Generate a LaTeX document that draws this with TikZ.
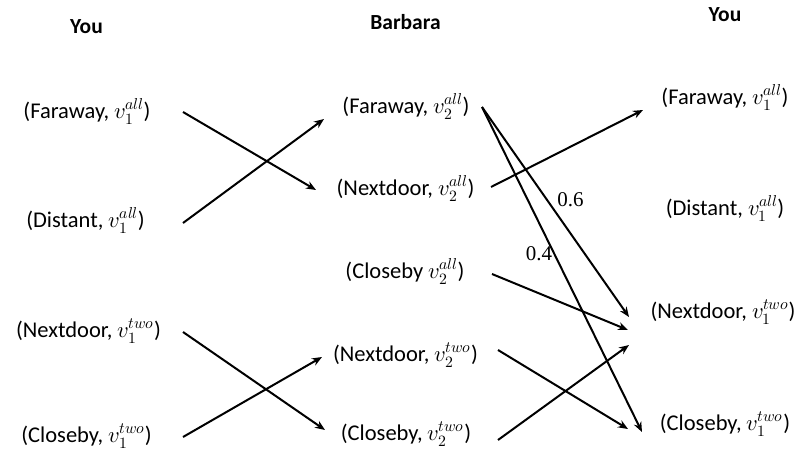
\documentclass[tikz,border=0pt]{standalone}
\usepackage{fontspec}
\usepackage{unicode-math}
\setmainfont{Carlito}
\setmathfont{Latin Modern Math}
\newfontfamily\numfont{Liberation Serif}
\usetikzlibrary{arrows.meta,calc}
\begin{document}
\begin{tikzpicture}[x=1pt,y=-1pt,
  lbl/.style={anchor=base,inner sep=0pt,font=\fontsize{22.5}{27}\selectfont},
  hdr/.style={anchor=base,inner sep=0pt,font=\fontsize{21.5}{26}\selectfont\bfseries},
  prob/.style={inner sep=0pt,font=\fontsize{21}{25}\selectfont\numfont},
  arr/.style={line width=2pt,-{Stealth[length=10pt,width=8pt]}}]
\useasboundingbox (0,0) rectangle (801,450);
% headers
\node[hdr] (h1) at (86.5,33) {You};
\node[hdr] (h2) at (405.5,29) {Barbara};
\node[hdr] (h3) at (725,21) {You};
% left column
\node[lbl] (l1) at (87,118) {(Faraway, $v_1^{all}$)};
\node[lbl] (l2) at (85.5,227) {(Distant, $v_1^{all}$)};
\node[lbl] (l3) at (88.5,337) {(Nextdoor, $v_1^{two}$)};
\node[lbl] (l4) at (86.5,442) {(Closeby, $v_1^{two}$)};
% middle column
\node[lbl] (m1) at (406,113) {(Faraway, $v_2^{all}$)};
\node[lbl] (m2) at (405.5,195) {(Nextdoor, $v_2^{all}$)};
\node[lbl] (m3) at (405,278) {(Closeby $v_2^{all}$)};
\node[lbl] (m4) at (405.5,361) {(Nextdoor, $v_2^{two}$)};
\node[lbl] (m5) at (406,440) {(Closeby, $v_2^{two}$)};
% right column
\node[lbl] (r1) at (725,104) {(Faraway, $v_1^{all}$)};
\node[lbl] (r2) at (725,215) {(Distant, $v_1^{all}$)};
\node[lbl] (r3) at (723,318) {(Nextdoor, $v_1^{two}$)};
\node[lbl] (r4) at (725,430) {(Closeby, $v_1^{two}$)};
% probabilities
\node[prob] (p6) at (570.5,200) {0.6};
\node[prob] (p4) at (539,254) {0.4};
% arrows left -> middle
\draw[arr] ($(l1.base)+(96,-6)$) -- ($(m2.base)+(-89.5,-5)$);
\draw[arr] ($(l2.base)+(97.5,-4)$) -- ($(m1.base)+(-82,6)$);
\draw[arr] ($(l3.base)+(94.5,-5)$) -- ($(m5.base)+(-81,-10)$);
\draw[arr] ($(l4.base)+(96.5,-5)$) -- ($(m4.base)+(-83.5,-4)$);
% arrows middle -> right
\draw[arr] ($(m1.base)+(76,-6)$) -- ($(r3.base)+(-94,-1)$);
\draw[arr] ($(m1.base)+(76,-6)$) -- ($(r4.base)+(-83,2)$);
\draw[arr] ($(m2.base)+(85.5,-8)$) -- ($(r1.base)+(-82,6)$);
\draw[arr] ($(m3.base)+(87,-4)$) -- ($(r3.base)+(-95,12)$);
\draw[arr] ($(m4.base)+(92.5,-11)$) -- ($(r4.base)+(-97,-1)$);
\draw[arr] ($(m5.base)+(92,0)$) -- ($(r3.base)+(-94,27)$);
\end{tikzpicture}
\end{document}
